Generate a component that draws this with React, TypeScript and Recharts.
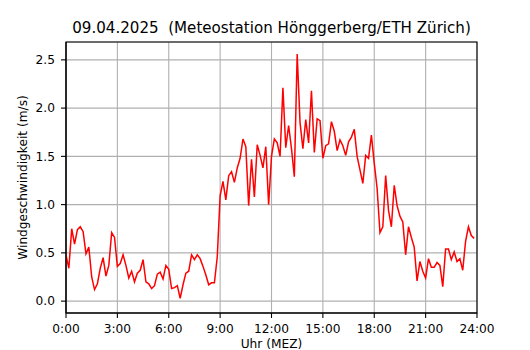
import { LineChart, Line, XAxis, YAxis, CartesianGrid, ReferenceArea } from "recharts";

const TITLE = "09.04.2025  (Meteostation Hönggerberg/ETH Zürich)";
const X_LABEL = "Uhr (MEZ)";
const Y_LABEL = "Windgeschwindigkeit (m/s)";

// 10-minute samples, 00:00 .. 23:50
const windSpeed = [
  0.48, 0.34, 0.75, 0.59, 0.74, 0.77, 0.72, 0.49, 0.56, 0.25, 0.12, 0.18,
  0.34, 0.45, 0.26, 0.37, 0.71, 0.66, 0.36, 0.39, 0.48, 0.37, 0.24, 0.31,
  0.2, 0.29, 0.32, 0.43, 0.2, 0.18, 0.13, 0.16, 0.28, 0.3, 0.23, 0.37,
  0.33, 0.13, 0.14, 0.16, 0.03, 0.17, 0.29, 0.31, 0.48, 0.43, 0.48, 0.44,
  0.36, 0.27, 0.17, 0.19, 0.19, 0.46, 1.09, 1.24, 1.05, 1.3, 1.34, 1.23,
  1.38, 1.48, 1.68, 1.6, 0.99, 1.47, 1.08, 1.62, 1.51, 1.38, 1.6, 1.0,
  1.5, 1.68, 1.64, 1.5, 2.21, 1.59, 1.82, 1.58, 1.29, 2.56, 1.85, 1.58,
  1.88, 1.64, 2.18, 1.54, 1.89, 1.87, 1.48, 1.61, 1.63, 1.86, 1.76, 1.56,
  1.67, 1.61, 1.51, 1.65, 1.7, 1.78, 1.5, 1.36, 1.22, 1.51, 1.48, 1.72,
  1.43, 1.17, 0.71, 0.77, 1.3, 0.94, 0.77, 1.2, 0.99, 0.88, 0.82, 0.48,
  0.77, 0.66, 0.56, 0.21, 0.41, 0.31, 0.24, 0.44, 0.35, 0.35, 0.4, 0.37,
  0.15, 0.54, 0.54, 0.43, 0.51, 0.41, 0.44, 0.32, 0.62, 0.77, 0.68, 0.65,
];

const xTicks = [0, 180, 360, 540, 720, 900, 1080, 1260, 1440];
const yTicks = [0, 0.5, 1.0, 1.5, 2.0, 2.5];

const data = windSpeed.map((v, i) => ({ minute: i * 10, v }));

const FONT = "'DejaVu Sans', sans-serif";
const X_DOMAIN: [number, number] = [0, 1440];
const Y_DOMAIN: [number, number] = [-0.123, 2.685];

function formatHour(m: number) {
  return `${Math.round(m / 60)}:00`;
}

export default function App() {
  return (
    <div style={{ position: "absolute", left: 0, top: 0, width: 530, height: 350, background: "#fff" }}>
      <LineChart
        width={530}
        height={350}
        data={data}
        margin={{ top: 42, right: 53, bottom: 0, left: 0 }}
        style={{ fontFamily: FONT }}
      >
        <CartesianGrid stroke="#b0b0b0" strokeWidth={1.1} />
        <XAxis
          dataKey="minute"
          type="number"
          domain={X_DOMAIN}
          ticks={xTicks}
          tickFormatter={formatHour}
          height={37}
          allowDataOverflow
          tick={{ fontSize: 12.2, fill: "#000" }}
          tickSize={5}
          tickMargin={6}
          axisLine={{ stroke: "#000", strokeWidth: 1.1 }}
          tickLine={{ stroke: "#000", strokeWidth: 1.1 }}
        />
        <YAxis
          type="number"
          domain={Y_DOMAIN}
          ticks={yTicks}
          tickFormatter={(v: number) => v.toFixed(1)}
          width={66}
          allowDataOverflow
          tick={{ fontSize: 12.2, fill: "#000" }}
          tickSize={5}
          tickMargin={6}
          axisLine={{ stroke: "#000", strokeWidth: 1.1 }}
          tickLine={{ stroke: "#000", strokeWidth: 1.1 }}
        />
        <Line
          type="linear"
          dataKey="v"
          stroke="#ff0000"
          strokeWidth={1.5}
          dot={false}
          activeDot={false}
          isAnimationActive={false}
        />
        <ReferenceArea
          x1={X_DOMAIN[0]}
          x2={X_DOMAIN[1]}
          y1={Y_DOMAIN[0]}
          y2={Y_DOMAIN[1]}
          fill="none"
          fillOpacity={0}
          stroke="#000"
          strokeWidth={1.1}
          ifOverflow="visible"
        />
      </LineChart>
      <svg
        width={530}
        height={350}
        style={{ position: "absolute", left: 0, top: 0, pointerEvents: "none", fontFamily: FONT }}
      >
        <text x={271.5} y={33} textAnchor="middle" fontSize={15.1} fill="#000" style={{ whiteSpace: "pre" }}>
          {TITLE}
        </text>
        <text x={271.5} y={348} textAnchor="middle" fontSize={12.2} fill="#000">
          {X_LABEL}
        </text>
        <text
          transform="translate(27, 177.5) rotate(-90)"
          textAnchor="middle"
          fontSize={12.2}
          fill="#000"
        >
          {Y_LABEL}
        </text>
      </svg>
    </div>
  );
}
